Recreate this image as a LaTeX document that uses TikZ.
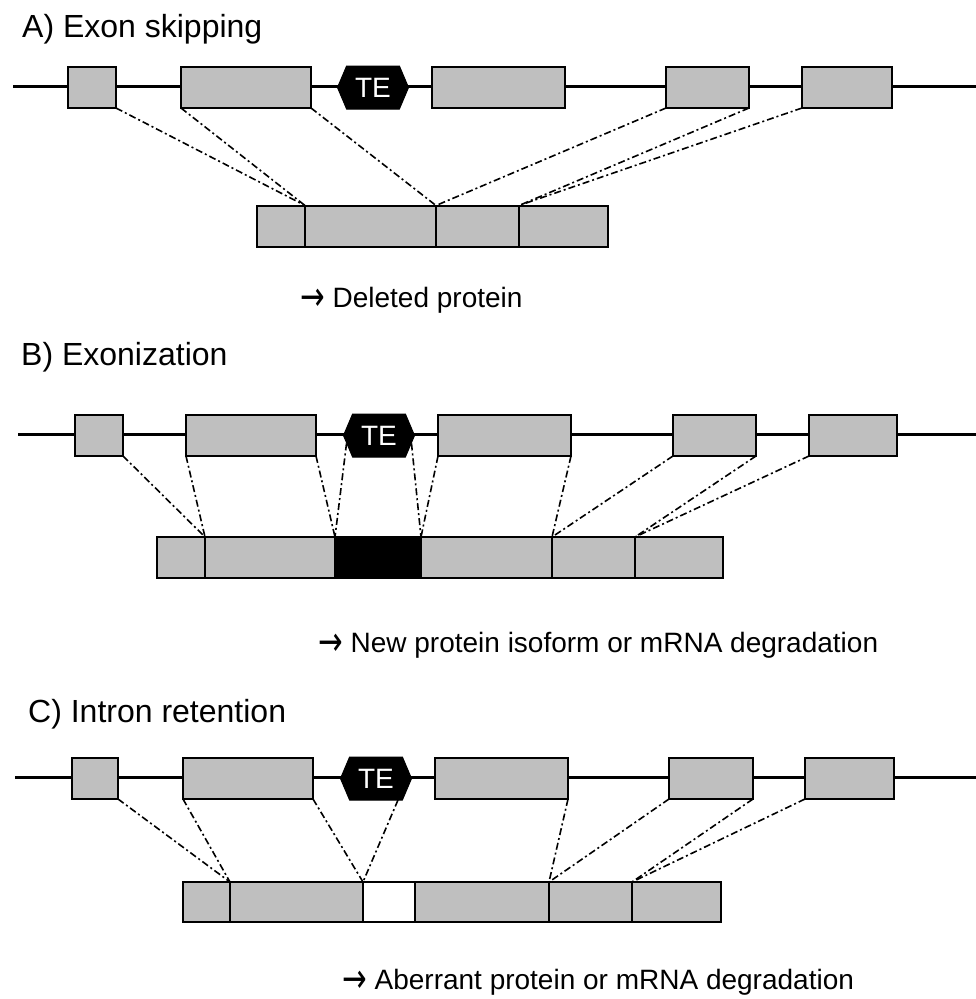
\documentclass[tikz,border=0pt]{standalone}
\usepackage{fontspec}
\setmainfont{Liberation Sans}
\newfontfamily\arrowfont{DejaVu Sans}
\usetikzlibrary{positioning,shapes.symbols}
\definecolor{exongray}{RGB}{191,191,191}
\newcommand{\toarrow}{\raisebox{-3.5pt}[\height][0pt]{\scalebox{1.05}[1.45]{\arrowfont →}}}

\begin{document}
\begin{tikzpicture}[x=1pt,y=-1pt]
        \tikzstyle{exon}=[draw, fill=exongray, line width=1.9pt, inner sep=0pt, outer sep=0pt, minimum height=41pt]
        \tikzstyle{mrna}=[exon, line width=2pt]
        \tikzstyle{te}=[signal, signal to=west and east, signal pointer angle=134, draw, fill=black, line width=1pt, text=white, inner sep=0pt, outer sep=0pt, minimum width=71pt, minimum height=43pt, font=\fontsize{28}{30}\selectfont]
        \tikzstyle{gene}=[line width=3pt]
        \tikzstyle{link}=[line width=1.6pt, dash pattern=on 7pt off 3pt on 2pt off 3pt]
        \tikzstyle{title}=[anchor=base west, inner sep=0pt, font=\fontsize{32}{38}\selectfont]
        \tikzstyle{note}=[anchor=base west, inner sep=0pt, font=\fontsize{28}{34}\selectfont]

        \useasboundingbox (0,0) rectangle (976,999);

        % A) exon skipping
        \node[title] (ta) at (22,37) {A) Exon skipping};
        \coordinate (la) at (13,86.5);
        \coordinate (ra) at (976,86.5);
        \draw[gene] (la) -- (ra);
        \node[exon, minimum width=48pt]  (a1) at (92,87.5) {};
        \node[exon, minimum width=130pt] (a2) at (246,87.5) {};
        \node[te]                         (tea) at (373,87.5) {TE};
        \node[exon, minimum width=133pt] (a3) at (498.5,87.5) {};
        \node[exon, minimum width=83pt]  (a4) at (707.5,87.5) {};
        \node[exon, minimum width=90pt]  (a5) at (847,87.5) {};

        \node[mrna, minimum width=48pt]  (ma1) at (281,226) {};
        \node[mrna, minimum width=131pt, right=0pt of ma1] (ma2) {};
        \node[mrna, minimum width=83pt,  right=0pt of ma2] (ma3) {};
        \node[mrna, minimum width=89pt,  right=0pt of ma3] (ma4) {};

        \draw[link] (a1.south east) -- (ma2.north west);
        \draw[link] (a2.south west) -- (ma2.north west);
        \draw[link] (a2.south east) -- (ma3.north west);
        \draw[link] (a4.south west) -- (ma3.north west);
        \draw[link] (a4.south east) -- (ma4.north west);
        \draw[link] (a5.south west) -- (ma4.north west);

        \node[note] (na) at (300,307) {\toarrow{} Deleted protein};

        % B) exonization
        \node[title] (tb) at (21,365) {B) Exonization};
        \coordinate (lb) at (18,434);
        \coordinate (rb) at (976,434);
        \draw[gene] (lb) -- (rb);
        \node[exon, minimum width=48pt]  (b1) at (99,435.5) {};
        \node[exon, minimum width=130pt] (b2) at (251,435.5) {};
        \node[te]                         (teb) at (379,435.5) {TE};
        \node[exon, minimum width=133pt] (b3) at (504.5,435.5) {};
        \node[exon, minimum width=83pt]  (b4) at (714.5,435.5) {};
        \node[exon, minimum width=88pt]  (b5) at (853,435.5) {};

        \node[mrna, minimum width=48pt]  (mb1) at (181,557.5) {};
        \node[mrna, minimum width=130pt, right=0pt of mb1] (mb2) {};
        \node[mrna, minimum width=86pt,  right=0pt of mb2, fill=black] (mb3) {};
        \node[mrna, minimum width=131pt, right=0pt of mb3] (mb4) {};
        \node[mrna, minimum width=83pt,  right=0pt of mb4] (mb5) {};
        \node[mrna, minimum width=88pt,  right=0pt of mb5] (mb6) {};

        \draw[link] (b1.south east) -- (mb2.north west);
        \draw[link] (b2.south west) -- (mb2.north west);
        \draw[link] (b2.south east) -- (mb3.north west);
        \draw[link] ([xshift=3pt,yshift=-8pt]teb.west) -- (mb3.north west);
        \draw[link] ([xshift=-3pt,yshift=-8pt]teb.east) -- (mb4.north west);
        \draw[link] (b3.south west) -- (mb4.north west);
        \draw[link] (b3.south east) -- (mb5.north west);
        \draw[link] (b4.south west) -- (mb5.north west);
        \draw[link] (b4.south east) -- (mb6.north west);
        \draw[link] (b5.south west) -- (mb6.north west);

        \node[note] (nb) at (318,652) {\toarrow{} New protein isoform or mRNA degradation};

        % C) intron retention
        \node[title] (tc) at (28,722) {C) Intron retention};
        \coordinate (lc) at (15,777.5);
        \coordinate (rc) at (976,777.5);
        \draw[gene] (lc) -- (rc);
        \node[exon, minimum width=46pt]  (c1) at (95,778.5) {};
        \node[exon, minimum width=130pt] (c2) at (248,778.5) {};
        \node[te]                         (tec) at (376,778.5) {TE};
        \node[exon, minimum width=133pt] (c3) at (501.5,778.5) {};
        \node[exon, minimum width=84pt]  (c4) at (711,778.5) {};
        \node[exon, minimum width=89pt]  (c5) at (849.5,778.5) {};

        \node[mrna, minimum width=47pt, minimum height=40pt]  (mc1) at (206.5,902) {};
        \node[mrna, minimum width=133pt, minimum height=40pt, right=0pt of mc1] (mc2) {};
        \node[mrna, minimum width=52pt,  minimum height=40pt, right=0pt of mc2, fill=white] (mc3) {};
        \node[mrna, minimum width=134pt, minimum height=40pt, right=0pt of mc3] (mc4) {};
        \node[mrna, minimum width=83pt,  minimum height=40pt, right=0pt of mc4] (mc5) {};
        \node[mrna, minimum width=89pt,  minimum height=40pt, right=0pt of mc5] (mc6) {};

        \draw[link] (c1.south east) -- (mc2.north west);
        \draw[link] (c2.south west) -- (mc2.north west);
        \draw[link] (c2.south east) -- (mc3.north west);
        \draw[link] ([xshift=22pt]tec.south) -- (mc3.north west);
        \draw[link] (c3.south east) -- (mc5.north west);
        \draw[link] (c4.south west) -- (mc5.north west);
        \draw[link] (c4.south east) -- (mc6.north west);
        \draw[link] (c5.south west) -- (mc6.north west);

        \node[note] (nc) at (342,989) {\toarrow{} Aberrant protein or mRNA degradation};

    \end{tikzpicture}
\end{document}
